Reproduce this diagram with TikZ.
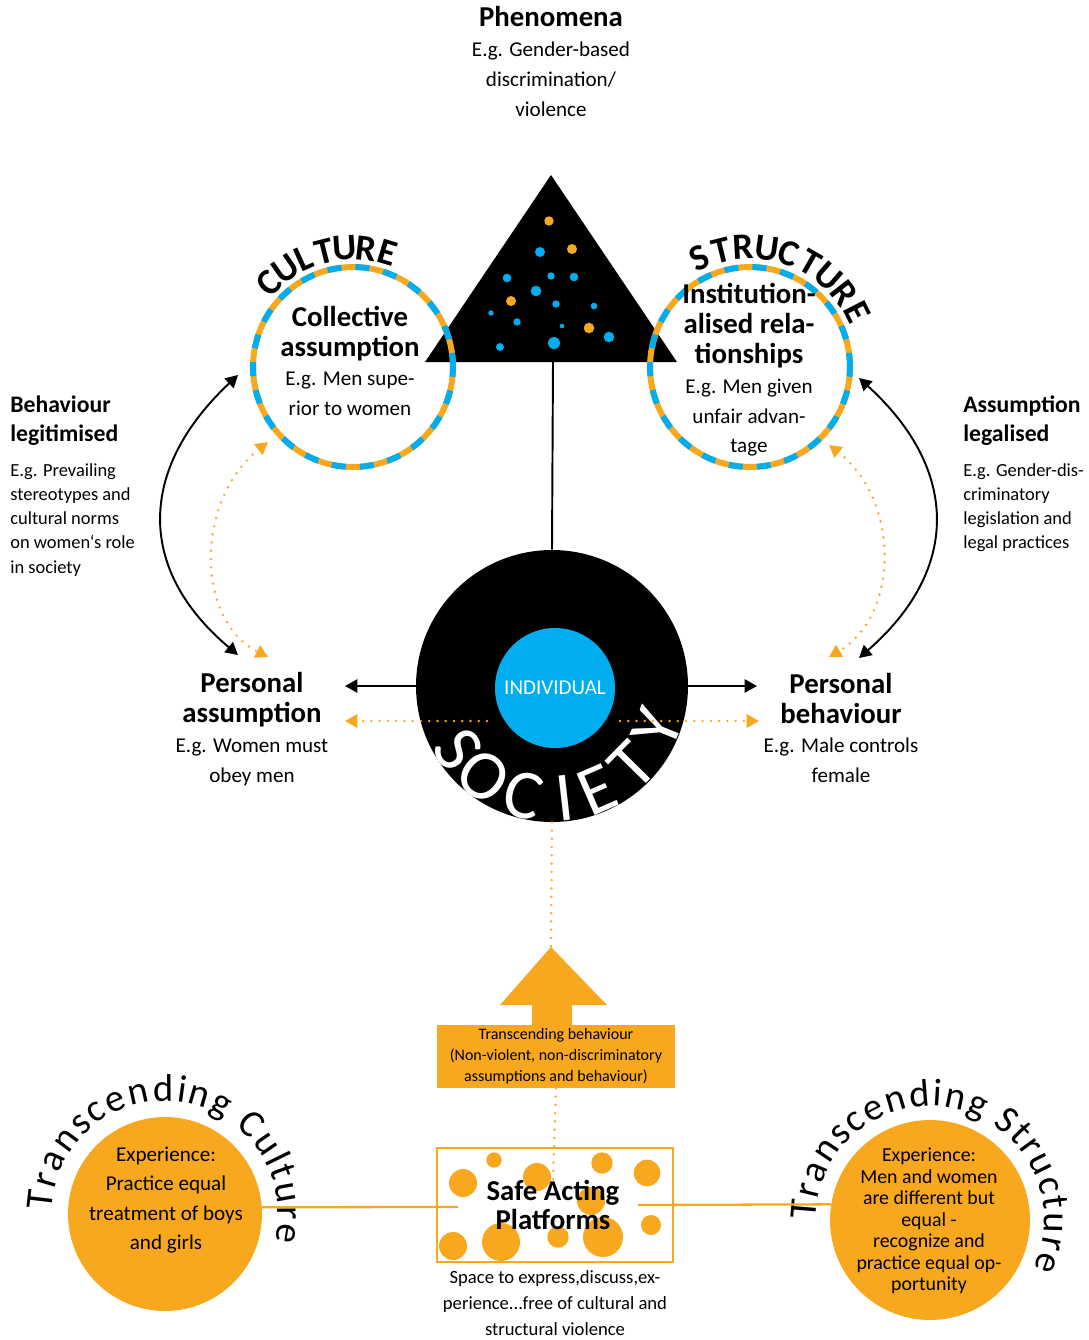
\documentclass[tikz,border=0pt]{standalone}
\usepackage{fontspec}
\setmainfont{Carlito}
\usetikzlibrary{calc,arrows.meta,decorations.text}
\definecolor{orng}{RGB}{248,168,30}
\definecolor{skyb}{RGB}{0,174,239}
\newcommand{\hd}[1]{{\fontsize{16.4}{17}\selectfont\bfseries #1}}
\tikzset{
	txt/.style={align=center, inner sep=0, font=\fontsize{12}{17}\selectfont},
	sidehd/.style={align=left, inner sep=0, anchor=west, font=\fontsize{13.5}{16.5}\selectfont\bfseries},
	sidetxt/.style={align=left, inner sep=0, anchor=west, font=\fontsize{10.5}{13.7}\selectfont},
	ring/.style={circle, draw=orng, line width=3.4pt, inner sep=0, minimum size=113.8pt,
		postaction={draw=skyb, dash pattern=on 8pt off 8pt}},
	link/.style={line width=1.1pt},
	dots/.style={orng, line width=1.5pt, line cap=round, dash pattern=on 0pt off 4.7pt},
	capletter/.style={inner sep=0, font=\fontsize{21}{21}\selectfont\bfseries},
	arcword/.style={decorate, decoration={text effects along path, text={#1},
		text effects/.cd, text along path, fit text to path, characters={font=\fontsize{22}{22}\selectfont}}}
}

\begin{document}
\begin{tikzpicture}[x=0.02cm, y=0.02cm, >={Triangle[length=7pt, width=7.5pt]}]
		%%%%% START %%%%%
		\useasboundingbox (0,0) rectangle (1089,-1340);
		
		% phenomena
		\node[txt] (phen) at (551,-61.5) {\hd{Phenomena}\\E.g. Gender-based\\discrimination/\\violence};
		\fill (551,-175) -- (425,-362) -- (677,-362) -- cycle;
		\coordinate (tribase) at (553,-362);
		\foreach \x/\y/\r/\c in {549/221/4.7/orng, 540/252/5/skyb, 572/249/5/orng, 507/278/4.3/skyb,
			551/276/3.7/skyb, 574/277/4.3/skyb, 536/291/5.3/skyb, 511/301/5/orng, 556/304/3.7/skyb,
			594/306/3.3/skyb, 491/313/2.7/skyb, 517/322/3.7/skyb, 562/326/2.3/skyb, 589/328/5.3/orng,
			609/337/5.3/skyb, 554/343/6/skyb, 500/347/4/skyb}
			\fill[\c] (\x,-\y) circle (\r);
		
		% culture and structure
		\node[ring] (culture) at (353,-367) {};
		\node[ring] (structure) at (750,-367) {};
		\foreach \l [count=\i] in {C,U,L,T,U,R,E}
			\node[capletter, rotate=135-10.3*(\i-1)-90] (cul\i) at ($(culture.center)+({135-10.3*(\i-1)}:119)$) {\l};
		\foreach \l [count=\i] in {S,T,R,U,C,T,U,R,E}
			\node[capletter, rotate=115-11*(\i-1)-90] (str\i) at ($(structure.center)+({115-11*(\i-1)}:120)$) {\l};
		\node[txt] (colltxt) at (350,-361) {\hd{Collective}\\\hd{assumption}\\E.g. Men supe-\\rior to women};
		\node[txt] (insttxt) at (749,-370) {\hd{Institution-}\\\hd{alised rela-}\\\hd{tionships}\\E.g. Men given\\unfair advan-\\tage};
		
		% side texts
		\node[sidehd] (behleg) at (10,-421) {Behaviour\\legitimised};
		\node[sidetxt] (behlegtxt) at (10,-520) {E.g. Prevailing\\stereotypes and\\cultural norms\\on women\symbol{96}s role\\in society};
		\node[sidehd] (asleg) at (963,-421) {Assumption\\legalised};
		\node[sidetxt] (aslegtxt) at (963,-508) {E.g. Gender-dis-\\criminatory\\legislation and\\legal practices};
		
		% society
		\node[circle, fill=black, minimum size=154.8pt, inner sep=0] (society) at (552,-686) {};
		\node[circle, fill=skyb, minimum size=68.3pt, inner sep=0, text=white, font=\fontsize{12}{14}\selectfont] (indiv) at (555,-688) {INDIVIDUAL};
		\begin{scope}
			\clip (society.center) circle (136);
			\foreach \l/\a in {S/214, O/233, C/255.5, I/276.5, E/293.5, T/315.5, Y/338}
				\node[inner sep=0, text=white, font=\fontsize{40}{40}\selectfont, rotate=\a+90] (soc\l) at ($(society.center)+(\a:113)$) {\l};
		\end{scope}
		\draw[link] (tribase) -- (society.north);
		
		\node[txt] (passump) at (252,-729) {\hd{Personal}\\\hd{assumption}\\E.g. Women must\\obey men};
		\node[txt] (pbehav) at (841,-728) {\hd{Personal}\\\hd{behaviour}\\E.g. Male controls\\female};
		
		\coordinate (lft) at (345,-686);
		\coordinate (rgt) at (757,-686);
		\coordinate (dl0) at (487,-721);
		\coordinate (dl1) at (345,-721);
		\coordinate (dr0) at (620,-721);
		\coordinate (dr1) at (759,-721);
		\draw[link, ->] (society.west) -- (lft);
		\draw[link, ->] (society.east) -- (rgt);
		\draw[dots, ->] (dl0) -- (dl1);
		\draw[dots, ->] (dr0) -- (dr1);
		
		% curved arrows
		\draw[link, <->] ($(culture.center)+(-115,-8)$) .. controls +(-101,-95) and +(-101,85) .. ($(passump.center)+(-14,74)$);
		\draw[dots, <->] ($(culture.center)+(-85,-75)$) .. controls +(-73,-58) and +(-73,37) .. ($(passump.center)+(16,72)$);
		\draw[link, <->] ($(structure.center)+(109,-11)$) .. controls +(101,-92) and +(101,88) .. ($(pbehav.center)+(18,70)$);
		\draw[dots, <->] ($(structure.center)+(79,-78)$) .. controls +(71,-55) and +(71,42) .. ($(pbehav.center)+(-12,71)$);
		
		% transcending behaviour
		\node[fill=orng, minimum width=135.4pt, minimum height=35.8pt, inner sep=0, align=center, font=\fontsize{9.1}{12}\selectfont] (tbeh) at (556,-1056.5) {Transcending behaviour\\(Non-violent, non-discriminatory\\assumptions and behaviour)};
		\fill[orng] (532,-1005) rectangle (572,-1026);
		\fill[orng] (500,-1005) -- (551,-947) -- (607,-1005) -- cycle;
		\coordinate (tbtip) at (551,-947);
		\draw[dots] (society.south) -- (tbtip);
		
		% safe acting platforms
		\node[draw=orng, line width=1.3pt, minimum width=134.3pt, minimum height=64.9pt, inner sep=0] (sapbox) at (555,-1205) {};
		\foreach \x/\y/\r in {494/1160/7.7, 463/1183/14, 537/1177/14, 602/1163/10.7, 647/1173/13.3,
			591/1201/14, 651/1225/10, 453/1246/14, 501/1242/19, 558/1237/10.7, 603/1237/20}
			\fill[orng] (\x,-\y) circle (\r);
		\node[txt, font=\fontsize{16.4}{17}\selectfont\bfseries] (sap) at (553,-1205) {Safe Acting\\Platforms};
		\draw[dots] (tbeh.south) -- (sap.north);
		\node[txt, font=\fontsize{10.6}{14.8}\selectfont] (spacetxt) at (555,-1303) {Space to express,discuss,ex-\\perience...free of cultural and\\structural violence};
		
		% transcending culture / structure
		\node[circle, fill=orng, minimum size=110.4pt, inner sep=0] (tcult) at (165,-1214) {};
		\node[txt, font=\fontsize{12}{16.8}\selectfont] (tculttxt) at (166,-1200) {Experience:\\Practice equal\\treatment of boys\\and girls};
		\path[arcword={Transcending Culture}]
			(tcult.center) ++(178:113) arc[start angle=178, end angle=-14, radius=113];
		\node[circle, fill=orng, minimum size=113.8pt, inner sep=0] (tstruct) at (930,-1220) {};
		\node[txt, font=\fontsize{11.3}{12.2}\selectfont] (tstructtxt) at (929,-1221) {Experience:\\Men and women\\are different but\\equal -\\recognize and\\practice equal op-\\portunity};
		\path[arcword={Transcending Structure}]
			(tstruct.center) ++(180:114) arc[start angle=180, end angle=-25, radius=114];
		
		\coordinate (sapl) at (458,-1207);
		\coordinate (sapr) at (638,-1205);
		\draw[orng, line width=1.3pt] (tcult.4) -- (sapl);
		\draw[orng, line width=1.3pt] (sapr) -- (tstruct.171);
		%%%%% END %%%%%
\end{tikzpicture}
\end{document}
